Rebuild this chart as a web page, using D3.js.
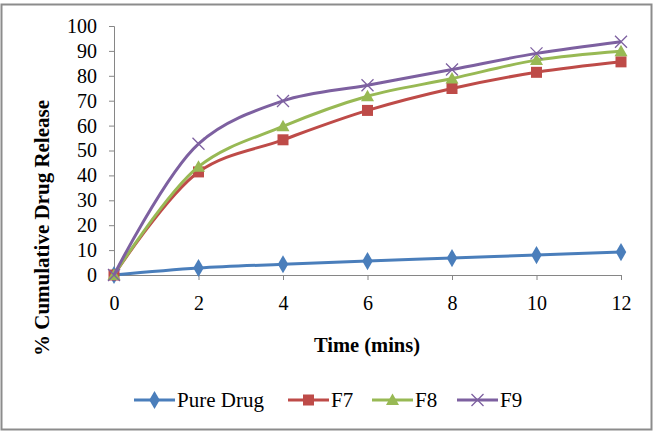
<!DOCTYPE html>
<html><head><meta charset="utf-8">
<script src="https://cdn.jsdelivr.net/npm/d3@7"></script>
<style>body{margin:0;background:#fff}svg{display:block}</style>
</head><body>
<svg id="chart" width="657" height="439"></svg>
<script>
const times = [0, 2, 4, 6, 8, 10, 12];
const seriesNames = ["Pure Drug", "F7", "F8", "F9"];
const pureDrug = [0, 2.8, 4.3, 5.6, 6.8, 8.0, 9.2];
const f7 = [0, 41.4, 54.3, 66.1, 74.9, 81.4, 85.6];
const f8 = [0, 43.5, 59.7, 71.8, 78.9, 86.3, 89.9];
const f9 = [0, 52.7, 69.9, 76.2, 82.5, 89.0, 93.7];
const yTicks = [0, 10, 20, 30, 40, 50, 60, 70, 80, 90, 100];
const xTicks = [0, 2, 4, 6, 8, 10, 12];
const colors = ["#4A7EBB", "#BE4B48", "#98B954", "#7D60A0"];
const markers = ["diamond", "square", "triangle", "cross"];
const values = [pureDrug, f7, f8, f9];

const svg = d3.select("#chart");
const font = "'Liberation Serif','Times New Roman',serif";

svg.append("rect").attr("x", 1.5).attr("y", 4.5).attr("width", 650).attr("height", 425)
  .attr("fill", "#fff").attr("stroke", "#8c8c8c").attr("stroke-width", 2);

const x = d3.scaleLinear().domain([0, 12]).range([114, 621]);
const y = d3.scaleLinear().domain([0, 100]).range([275, 26]);

const axisColor = "#868686";
const yAxis = svg.append("g").attr("transform", "translate(114,0)")
  .call(d3.axisLeft(y).tickValues(yTicks).tickSize(5).tickPadding(12));
const xAxis = svg.append("g").attr("transform", "translate(0,275)")
  .call(d3.axisBottom(x).tickValues(xTicks).tickSize(5).tickPadding(16));
[yAxis, xAxis].forEach(g => {
  g.select(".domain").attr("stroke", axisColor).attr("stroke-width", 1);
  g.selectAll(".tick line").attr("stroke", axisColor);
  g.selectAll("text").attr("fill", "#000").style("font-family", font).style("font-size", "20px");
});

svg.append("text").attr("x", 367).attr("y", 352).attr("text-anchor", "middle")
  .style("font-family", font).style("font-size", "20.5px").style("font-weight", "bold")
  .text("Time (mins)");
svg.append("text").attr("transform", "translate(49,228) rotate(-90)").attr("text-anchor", "middle")
  .style("font-family", font).style("font-size", "21px").style("font-weight", "bold")
  .text("% Cumulative Drug Release");

function drawMarker(g, type, cx, cy, color) {
  if (type === "diamond") {
    g.append("path").attr("d", d3.symbol(d3.symbolDiamond, 95)())
      .attr("transform", `translate(${cx},${cy})`).attr("fill", color);
  } else if (type === "square") {
    g.append("rect").attr("x", cx - 5.5).attr("y", cy - 5.5).attr("width", 11).attr("height", 11).attr("fill", color);
  } else if (type === "triangle") {
    g.append("path").attr("d", `M${cx},${cy-6.5}L${cx+6.5},${cy+5}L${cx-6.5},${cy+5}Z`).attr("fill", color);
  } else {
    g.append("path").attr("d", `M${cx-6},${cy-6}L${cx+6},${cy+6}M${cx-6},${cy+6}L${cx+6},${cy-6}`)
      .attr("stroke", color).attr("stroke-width", 1.3).attr("fill", "none");
  }
}

const line = d3.line().x((d, i) => x(times[i])).y(d => y(d)).curve(d3.curveCatmullRom.alpha(0.5));
values.forEach((vals, s) => {
  const g = svg.append("g");
  g.append("path").attr("d", line(vals)).attr("fill", "none").attr("stroke", colors[s])
    .attr("stroke-width", 3).attr("stroke-linejoin", "round");
  vals.forEach((v, i) => drawMarker(g, markers[s], x(times[i]), y(v), colors[s]));
});

const legendX = [134, 288, 372, 457];
const leg = svg.append("g");
seriesNames.forEach((name, s) => {
  const lx = legendX[s];
  leg.append("line").attr("x1", lx).attr("x2", lx + 41).attr("y1", 400).attr("y2", 400)
    .attr("stroke", colors[s]).attr("stroke-width", 3);
  drawMarker(leg, markers[s], lx + 20.5, 400, colors[s]);
  leg.append("text").attr("x", lx + 43).attr("y", 407).style("font-family", font)
    .style("font-size", "21px").text(name);
});
</script>
</body></html>
